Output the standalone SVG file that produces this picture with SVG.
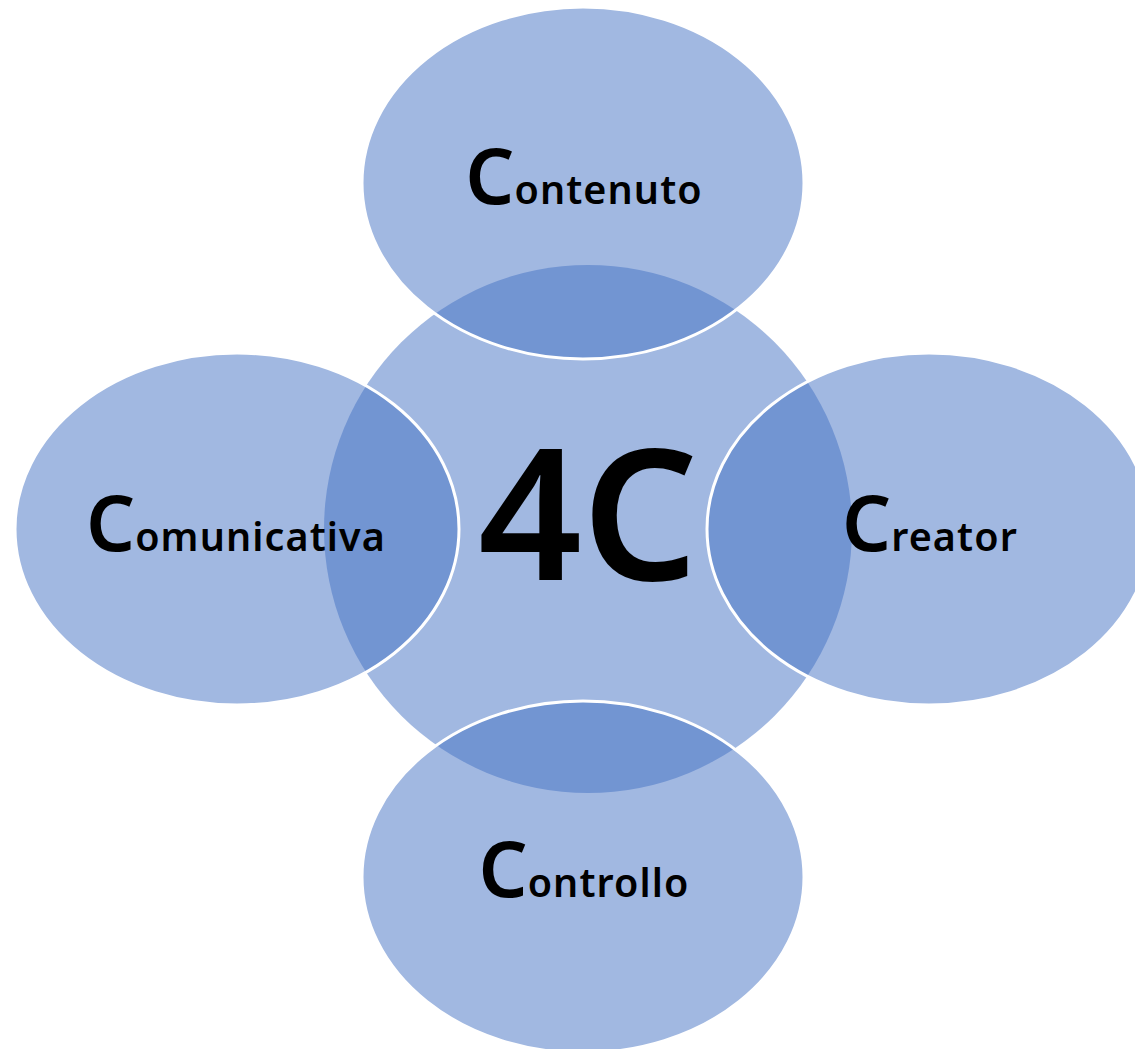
<svg xmlns="http://www.w3.org/2000/svg" width="1135" height="1049" viewBox="0 0 1135 1049">
<style>
.hub{fill:#4472C4;fill-opacity:0.5;stroke:none}
.sat{fill:#4472C4;fill-opacity:0.5;stroke:#FFFFFF;stroke-width:3}
.lbl{font-family:"Noto Sans","Open Sans","DejaVu Sans",sans-serif;font-weight:600;fill:#000000;text-anchor:middle}
.big{font-size:77px}
.small{font-size:39.5px;letter-spacing:1.1px}
.hubtxt{font-family:"Noto Sans","Open Sans","DejaVu Sans",sans-serif;font-weight:600;font-size:182px;fill:#000000;text-anchor:middle}
</style>
<rect width="1135" height="1049" fill="#FFFFFF"/>
<g id="hub">
<circle class="hub" cx="588" cy="529" r="264"/>
</g>
<g id="node-contenuto">
<ellipse class="sat" cx="583" cy="183" rx="221" ry="176"/>
</g>
<g id="node-creator">
<ellipse class="sat" cx="929" cy="529" rx="222" ry="176"/>
</g>
<g id="node-controllo">
<ellipse class="sat" cx="583" cy="877" rx="221" ry="176"/>
</g>
<g id="node-comunicativa">
<ellipse class="sat" cx="237" cy="529" rx="222" ry="176"/>
</g>
<g id="labels">
<text class="hubtxt" x="588" y="580">4C</text>
<text class="lbl" x="584" y="204"><tspan class="big">C</tspan><tspan class="small">ontenuto</tspan></text>
<text class="lbl" x="236" y="551"><tspan class="big">C</tspan><tspan class="small">omunicativa</tspan></text>
<text class="lbl" x="930" y="551"><tspan class="big">C</tspan><tspan class="small">reator</tspan></text>
<text class="lbl" x="584" y="897"><tspan class="big">C</tspan><tspan class="small">ontrollo</tspan></text>
</g>
<g id="connectors"></g>
</svg>
